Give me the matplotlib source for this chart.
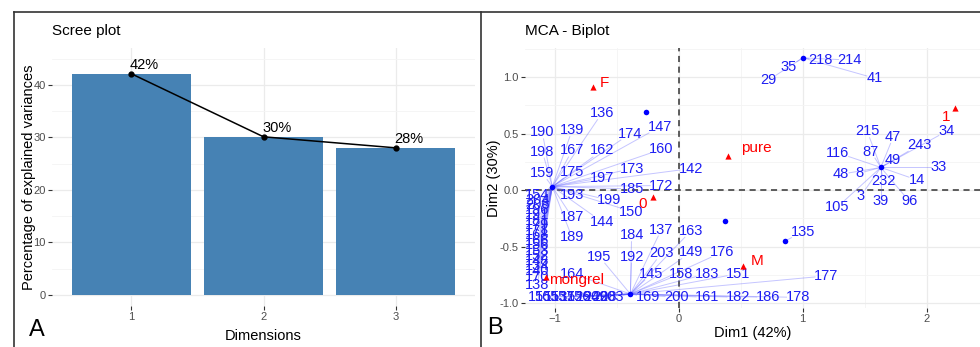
import numpy as np
import matplotlib.pyplot as plt
from matplotlib.lines import Line2D
from matplotlib.ticker import MultipleLocator

plt.rcParams['font.family'] = ['Liberation Sans Narrow', 'Liberation Sans', 'DejaVu Sans']

# scree plot
dims = [1, 2, 3]
expl_var = [42.1, 30.1, 28.0]
var_labels = ['42%', '30%', '28%']

# MCA individuals: distinct coordinate profiles
ind_x = [-1.02, -0.39, -0.26, 1.00, 1.63, 0.37, 0.86]
ind_y = [0.03, -0.92, 0.69, 1.17, 0.20, -0.27, -0.45]

# repelled labels: text, label position, index of the point it belongs to
lab_names = ['136', '190', '139', '174', '147', '198', '167', '162', '160', '159',
             '175', '173', '197', '142', '172', '185', '193', '199', '150', '187',
             '144', '189',
             '195', '192', '184', '137', '203', '163', '149', '176', '145', '158',
             '183', '151', '177', '169', '200', '161', '182', '186', '178', '164',
             '29', '35', '218', '214', '41',
             '215', '47', '34', '116', '87', '243', '49', '33', '48', '8',
             '232', '14', '3', '39', '96', '105',
             '135']
lab_x = [-0.62, -1.10, -0.86, -0.39, -0.15, -1.10, -0.86, -0.62, -0.14, -1.10,
         -0.86, -0.38, -0.62, 0.10, -0.14, -0.38, -0.86, -0.56, -0.38, -0.86,
         -0.62, -0.86,
         -0.64, -0.38, -0.38, -0.14, -0.14, 0.10, 0.10, 0.35, -0.22, 0.02,
         0.23, 0.48, 1.19, -0.25, -0.02, 0.23, 0.48, 0.72, 0.96, -0.86,
         0.72, 0.89, 1.14, 1.38, 1.58,
         1.52, 1.73, 2.16, 1.28, 1.55, 1.94, 1.73, 2.10, 1.31, 1.46,
         1.65, 1.92, 1.47, 1.63, 1.86, 1.28,
         1.00]
lab_y = [0.68, 0.51, 0.53, 0.50, 0.56, 0.34, 0.35, 0.35, 0.36, 0.15,
         0.16, 0.19, 0.11, 0.19, 0.04, 0.01, -0.04, -0.09, -0.19, -0.24,
         -0.28, -0.42,
         -0.59, -0.59, -0.40, -0.35, -0.56, -0.36, -0.55, -0.55, -0.74, -0.74,
         -0.74, -0.74, -0.76, -0.95, -0.95, -0.95, -0.95, -0.95, -0.95, -0.74,
         0.97, 1.09, 1.15, 1.15, 0.99,
         0.52, 0.47, 0.52, 0.33, 0.34, 0.40, 0.27, 0.20, 0.14, 0.15,
         0.08, 0.09, -0.05, -0.10, -0.10, -0.15,
         -0.37]
lab_pt = [0] * 22 + [1] * 20 + [3] * 5 + [4] * 16 + [6]

# overlapping column of labels at the left edge (point 0)
col_names = ['154', '204', '206', '196', '191', '181', '179', '171', '168', '166',
             '156', '153', '152', '148', '134', '140', '170', '138']
col_y = [-0.04, -0.09, -0.13, -0.18, -0.22, -0.27, -0.31, -0.36, -0.40, -0.45,
         -0.49, -0.54, -0.58, -0.63, -0.67, -0.72, -0.77, -0.84]
col_x = -1.14

# overlapping row of labels at the bottom (point 1)
row_names = ['155', '165', '153', '157', '152', '156', '194', '209', '208', '203']
row_x = [-1.12, -1.06, -0.99, -0.93, -0.86, -0.80, -0.73, -0.67, -0.60, -0.54]
row_y = -0.95

# category points
cat_names = ['F', 'pure', '1', '0', 'M', 'mongrel']
cat_x = [-0.69, 0.40, 2.23, -0.21, 0.52, -1.07]
cat_y = [0.91, 0.30, 0.73, -0.06, -0.67, -0.77]
cat_lab_x = [-0.64, 0.63, 2.16, -0.29, 0.58, -1.045]
cat_lab_y = [0.95, 0.37, 0.645, -0.12, -0.63, -0.795]
cat_ha = ['left', 'center', 'center', 'center', 'left', 'left']

fig = plt.figure(figsize=(9.8, 3.47), dpi=100)
W, H = 980, 347


def box(l, t, r, b):
    return [l / W, 1 - b / H, (r - l) / W, (b - t) / H]


grid_major = '#EBEBEB'
grid_minor = '#F4F4F4'
tick_col = '#4D4D4D'

# ---------- A: scree plot ----------
ax1 = fig.add_axes(box(52, 48, 475, 306))
ax1.bar(dims, expl_var, width=0.9, color='#4682B4', zorder=2)
ax1.plot(dims, expl_var, color='black', lw=1.1, marker='o', ms=3.5, zorder=3)
for d, v, s in zip(dims, expl_var, var_labels):
    ax1.annotate(s, (d, v), xytext=(-1, 1), textcoords='offset points',
                 ha='left', va='bottom', fontsize=10.5, zorder=4)
ax1.set_xlim(0.4, 3.6)
ax1.set_ylim(-2.1, 47)
ax1.set_xticks(dims)
ax1.set_yticks([0, 10, 20, 30, 40])
ax1.yaxis.set_minor_locator(MultipleLocator(5))
ax1.grid(True, which='major', color=grid_major, lw=0.9, zorder=0)
ax1.grid(True, which='minor', axis='y', color=grid_minor, lw=0.6, zorder=0)
ax1.set_axisbelow(True)
ax1.set_xlabel('Dimensions', fontsize=10.5, labelpad=5)
ax1.set_ylabel('Percentage of explained variances', fontsize=10.5, labelpad=-2)
ax1.text(0, 1.04, 'Scree plot', transform=ax1.transAxes, fontsize=11, va='bottom')

# ---------- B: MCA biplot ----------
ax2 = fig.add_axes(box(525, 48, 980, 308))
ax2.set_xlim(-1.24, 2.43)
ax2.set_ylim(-1.044, 1.257)
ax2.set_xticks([-1, 0, 1, 2])
ax2.set_yticks([-1.0, -0.5, 0.0, 0.5, 1.0])
ax2.set_yticklabels(['-1.0', '-0.5', '0.0', '0.5', '1.0'])
ax2.xaxis.set_minor_locator(MultipleLocator(0.5))
ax2.yaxis.set_minor_locator(MultipleLocator(0.25))
ax2.grid(True, which='major', color=grid_major, lw=0.9, zorder=0)
ax2.grid(True, which='minor', color=grid_minor, lw=0.6, zorder=0)
ax2.set_axisbelow(True)
ax2.axhline(0, color='#333333', ls=(0, (4, 3)), lw=1.1, zorder=1)
ax2.axvline(0, color='#333333', ls=(0, (4, 3)), lw=1.1, zorder=1)
ax2.set_xlabel('Dim1 (42%)', fontsize=10.5, labelpad=1)
ax2.set_ylabel('Dim2 (30%)', fontsize=10.5, labelpad=-1)
ax2.text(0, 1.04, 'MCA - Biplot', transform=ax2.transAxes, fontsize=11, va='bottom')

# collect every blue label
all_names = lab_names + col_names + row_names
all_x = lab_x + [col_x] * len(col_names) + row_x
all_y = lab_y + col_y + [row_y] * len(row_names)
all_pt = lab_pt + [0] * len(col_names) + [1] * len(row_names)

blue = '#1E1EF2'
seg_col = (0.35, 0.35, 1.0, 0.35)
to_px = ax2.transData
to_dat = ax2.transData.inverted()
char_w, half_h = 3.4, 6.5   # pixels, rough text box half-size per character
for name, lx, ly, p in zip(all_names, all_x, all_y, all_pt):
    px, py = to_px.transform((ind_x[p], ind_y[p]))
    cx, cy = to_px.transform((lx, ly))
    dx, dy = cx - px, cy - py
    hw = char_w * len(name) + 1
    f = min(hw / abs(dx) if dx else np.inf, half_h / abs(dy) if dy else np.inf)
    if f < 1:
        ex, ey = to_dat.transform((cx - dx * f, cy - dy * f))
        ax2.add_line(Line2D([ind_x[p], ex], [ind_y[p], ey], color=seg_col,
                            lw=0.7, zorder=2))
    ax2.text(lx, ly, name, color=blue, fontsize=10.5, ha='center', va='center',
             zorder=4)

ax2.scatter(ind_x, ind_y, s=16, color='blue', zorder=5, linewidths=0)
ax2.scatter(cat_x, cat_y, s=20, color='red', marker='^', zorder=5, linewidths=0)
for n, lx, ly, ha in zip(cat_names, cat_lab_x, cat_lab_y, cat_ha):
    ax2.text(lx, ly, n, color='red', fontsize=11, ha=ha, va='center', zorder=6)

for ax in (ax1, ax2):
    for sp in ax.spines.values():
        sp.set_visible(False)
    ax.tick_params(axis='both', which='major', length=3, width=0.8,
                   color='#333333', labelsize=8, labelcolor=tick_col, pad=1.5)
    ax.tick_params(which='minor', length=0)

# panel frames and panel letters
fig.add_artist(Line2D([14 / W, 14 / W], [0, 1 - 12 / H], color='#333333', lw=1.2))
fig.add_artist(Line2D([14 / W, 1], [1 - 12 / H, 1 - 12 / H], color='#333333', lw=1.2))
fig.add_artist(Line2D([481 / W, 481 / W], [0, 1 - 12 / H], color='#333333', lw=1.2))
fig.text(37 / W, 1 - 330 / H, 'A', fontsize=17, ha='center', va='center')
fig.text(495 / W, 1 - 328 / H, 'B', fontsize=17, ha='center', va='center')

fig.savefig('out.png', dpi=100)
